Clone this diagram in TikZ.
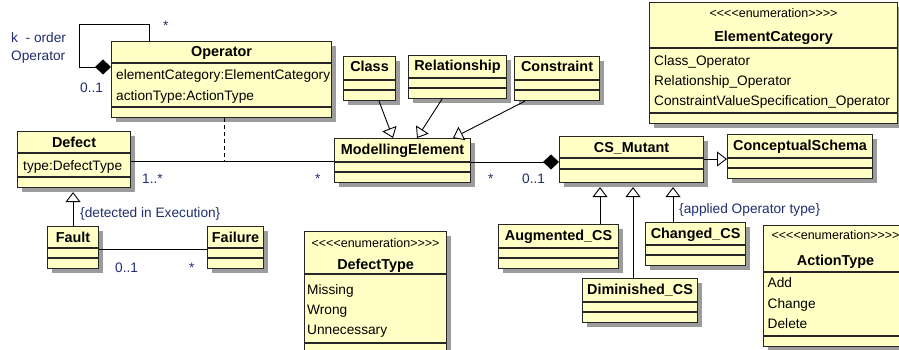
\documentclass[tikz,border=0pt]{standalone}
\usepackage{fontspec}
\setmainfont{Liberation Sans}
\usetikzlibrary{arrows.meta,calc,shadows}
\definecolor{umlfill}{HTML}{FFFFC6}
\definecolor{umlline}{HTML}{262626}
\definecolor{lblblue}{HTML}{1F2F6F}
\definecolor{shad}{HTML}{9C9C9C}
\newcommand\umlcls[7]{%
  \node[cls, minimum width=#4pt, minimum height=#5pt] (#1) at (#2,#3) {};
  \draw[sepl] ($(#1.north west)+(0,#6)$) -- ($(#1.north east)+(0,#6)$);
  \draw[sepl] ($(#1.north west)+(0,#7)$) -- ($(#1.north east)+(0,#7)$);
}
\begin{document}
\begin{tikzpicture}[x=1pt,y=-1pt,
  cls/.style={draw=umlline, line width=1.1pt, fill=umlfill, anchor=north west, inner sep=0pt,
    drop shadow={shadow xshift=4pt, shadow yshift=-4pt, fill=shad, opacity=1}},
  sepl/.style={draw=umlline, line width=1.1pt},
  conn/.style={draw=black, line width=0.9pt},
  gen/.style={conn, -{Triangle[length=10pt,width=15pt,fill=white]}},
  comptip/.style={conn},
  ttl/.style={font=\fontsize{14.4}{16}\selectfont\bfseries, anchor=base, inner sep=0pt},
  txt/.style={font=\fontsize{13.7}{16}\selectfont, anchor=base west, inner sep=0pt},
  lbl/.style={txt, text=lblblue},
  ster/.style={font=\fontsize{12.5}{14}\selectfont, anchor=base, inner sep=0pt}]
\useasboundingbox (0,0) rectangle (899,350);
\clip (0,0) rectangle (899,350);
\fill[white] (0,0) rectangle (899,350);

% classes
\umlcls{op}{111}{41}{220}{76}{22}{66}
\umlcls{cla}{343}{56}{52}{44}{24}{34}
\umlcls{rel}{408}{55}{98}{43}{23}{33}
\umlcls{con}{514}{56}{85}{44}{24}{34}
\umlcls{me}{334}{138}{136}{44}{24}{34}
\umlcls{def}{17}{131}{113}{56}{22}{46}
\umlcls{fau}{47}{226}{51}{42}{22}{32}
\umlcls{fai}{207}{226}{56}{42}{22}{32}
\umlcls{dty}{304}{231}{142}{130}{43}{112}
\umlcls{csm}{559}{136}{144}{46}{22}{33}
\umlcls{cs}{727}{134}{145}{44}{24}{34}
\umlcls{aug}{498}{224}{120}{44}{24}{34}
\umlcls{chg}{645}{222}{100}{43}{23}{33}
\umlcls{dim}{582}{278}{115}{44}{24}{34}
\umlcls{ecat}{649}{2}{248}{121}{46}{111}
\umlcls{aty}{763}{225}{144}{121}{47}{111}

% titles
\node[ttl] (tOp) at ($(op.north)+(0,16)$) {Operator};
\node[ttl] (tCla) at ($(cla.north)+(0,16)$) {Class};
\node[ttl] (tRel) at ($(rel.north)+(0,16)$) {Relationship};
\node[ttl] (tCon) at ($(con.north)+(0,16)$) {Constraint};
\node[ttl] (tMe) at ($(me.north)+(0,16)$) {ModellingElement};
\node[ttl] (tDef) at ($(def.north)+(0,16)$) {Defect};
\node[ttl] (tFau) at ($(fau.north)+(0,16)$) {Fault};
\node[ttl] (tFai) at ($(fai.north)+(0,16)$) {Failure};
\node[ttl] (tCsm) at ($(csm.north)+(0,16)$) {CS\_Mutant};
\node[ttl] (tCs) at ($(cs.north)+(0,16.5)$) {ConceptualSchema};
\node[ttl] (tAug) at ($(aug.north)+(0,16.5)$) {Augmented\_CS};
\node[ttl] (tChg) at ($(chg.north)+(0,16)$) {Changed\_CS};
\node[ttl] (tDim) at ($(dim.north)+(0,16)$) {Diminished\_CS};

% attributes
\node[txt] (aOp1) at ($(op.north west)+(5,39)$) {elementCategory:ElementCategory};
\node[txt] (aOp2) at ($(op.north west)+(5,59.5)$) {actionType:ActionType};
\node[txt] (aDef) at ($(def.north west)+(6,39)$) {type:DefectType};

% enumerations
\node[ster] (sEc) at ($(ecat.north)+(0,16)$) {<{}<{}<{}<enumeration>{}>{}>{}>};
\node[ttl] (tEc) at ($(ecat.north)+(0,40)$) {ElementCategory};
\node[txt] (e1) at ($(ecat.north west)+(5,64)$) {Class\_Operator};
\node[txt] (e2) at ($(ecat.north west)+(5,84)$) {Relationship\_Operator};
\node[txt] (e3) at ($(ecat.north west)+(5,104)$) {ConstraintValueSpecification\_Operator};

\node[ster] (sDt) at ($(dty.north)+(0,16)$) {<{}<{}<{}<enumeration>{}>{}>{}>};
\node[ttl] (tDt) at ($(dty.north)+(0,38.5)$) {DefectType};
\node[txt] (d1) at ($(dty.north west)+(3,63)$) {Missing};
\node[txt] (d2) at ($(dty.north west)+(3,83)$) {Wrong};
\node[txt] (d3) at ($(dty.north west)+(3,103)$) {Unnecessary};

\node[ster] (sAt) at ($(aty.north)+(0,14)$) {<{}<{}<{}<enumeration>{}>{}>{}>};
\node[ttl] (tAt) at ($(aty.north)+(0,40)$) {ActionType};
\node[txt] (a1) at ($(aty.north west)+(4.5,62)$) {Add};
\node[txt] (a2) at ($(aty.north west)+(4.5,83)$) {Change};
\node[txt] (a3) at ($(aty.north west)+(4.5,103)$) {Delete};

% connectors
\draw[conn, {Diamond[length=16pt,width=15pt]}-] ($(op.north west)+(0,26)$) -- ++(-32,0) -- ++(0,-43) -| ($(op.north west)+(38,0)$);
\draw[conn] ($(def.north east)+(0,30)$) -- ($(me.north west)+(0,23)$);
\coordinate (ac) at ($(op.south west)+(113,44)$);
\draw[conn, dash pattern=on 4pt off 3pt] ($(op.south west)+(113,0)$) -- (ac);
\draw[gen] (fau.north) -- ($(fau.north |- def.south)+(0,4)$);
\draw[conn] ($(fau.north east)+(0,23)$) -- ($(fai.north west)+(0,23)$);
\draw[gen] ($(cla.south west)+(36,0)$) -- ($(me.north west)+(59,0)$);
\draw[gen] ($(rel.south west)+(34,0)$) -- ($(me.north west)+(83,0)$);
\draw[gen] ($(con.south west)+(11,0)$) -- ($(me.north west)+(119,0)$);
\draw[conn, -{Diamond[length=16pt,width=15pt]}] ($(me.north east)+(0,24)$) -- ($(csm.north west)+(0,26)$);
\draw[gen] ($(csm.north east)+(0,23)$) -- ($(cs.north west)+(0,25)$);
\draw[gen] ($(aug.north west)+(102,0)$) -- ($(csm.south west)+(41,4)$);
\draw[gen] ($(dim.north west)+(51,0)$) -- ($(csm.south west)+(74,4)$);
\draw[gen] ($(chg.north west)+(28,0)$) -- ($(csm.south west)+(114,4)$);

% labels
\node[lbl] (lk) at (11,43) {k\ \ - order};
\node[lbl] (lop) at (11,61) {Operator};
\node[lbl] (ls1) at (163,31) {*};
\node[lbl] (l01a) at (80,93) {0..1};
\node[lbl] (l1s) at (142,183) {1..*};
\node[lbl] (ls2) at (315,183) {*};
\node[lbl] (ldet) at (80,217) {\{detected in Execution\}};
\node[lbl] (l01b) at (115,272) {0..1};
\node[lbl] (ls3) at (189,272) {*};
\node[lbl] (ls4) at (488,183) {*};
\node[lbl] (l01c) at (522,183) {0..1};
\node[lbl] (lapp) at (679,213) {\{applied Operator type\}};
\end{tikzpicture}
\end{document}
